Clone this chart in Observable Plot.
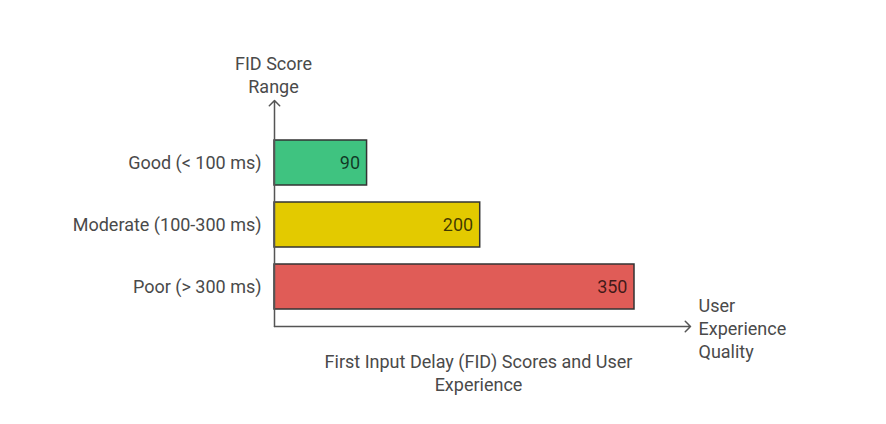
<!DOCTYPE html>
<html>
<head>
<meta charset="utf-8">
<script src="https://cdn.jsdelivr.net/npm/d3@7"></script>
<script src="https://cdn.jsdelivr.net/npm/@observablehq/plot@0.6"></script>
<style>
  html, body { margin: 0; padding: 0; background: #fff; }
  svg { font-family: Roboto, "Noto Sans", sans-serif; }
</style>
</head>
<body>
<div id="chart"></div>
<script>
const categories = ["Good (< 100 ms)", "Moderate (100-300 ms)", "Poor (> 300 ms)"];
const values = [90, 200, 350];
const colors = ["#3fc380", "#e3ca00", "#e05c57"];
const yTitle = "FID Score\nRange";
const xTitle = "User\nExperience\nQuality";
const caption = "First Input Delay (FID) Scores and User\nExperience";

const data = categories.map((c, i) => ({category: c, value: values[i], color: colors[i]}));

const axisColor = "#555";
const textColor = "#4a4a4a";

const chart = Plot.plot({
  width: 886,
  height: 424,
  marginLeft: 274,
  marginRight: 196,
  marginTop: 100,
  marginBottom: 98,
  style: {fontFamily: "Roboto, 'Noto Sans', sans-serif", fontSize: "18px", background: "#fff"},
  x: {domain: [0, 350], range: [274, 634], axis: null},
  y: {domain: categories, range: [131.5, 317.5], paddingInner: 0.274, paddingOuter: 0.137, label: null},
  marks: [
    Plot.axisY({tickSize: 0, tickPadding: 13, fontSize: 18, fill: textColor, label: null}),
    Plot.barX(data, {y: "category", x: "value", fill: "color", stroke: "#333", strokeWidth: 1.5}),
    Plot.text(data, {y: "category", x: "value", text: d => String(d.value), textAnchor: "end", dx: -7, fill: "#000", fillOpacity: 0.72, fontSize: 18}),
    Plot.vector([0], {frameAnchor: "bottom-left", rotate: 0, length: 226, anchor: "start", r: 0.4, stroke: axisColor, strokeWidth: 1.5}),
    Plot.vector([0], {frameAnchor: "bottom-left", rotate: 90, length: 416, anchor: "start", r: 0.22, stroke: axisColor, strokeWidth: 1.5}),
    Plot.text([yTitle], {frameAnchor: "top-left", text: d => d, textAnchor: "middle", lineAnchor: "middle", lineHeight: 1.28, dx: -1, dy: -26.5, fill: textColor, fontSize: 18}),
    Plot.text([xTitle], {frameAnchor: "bottom-right", text: d => d, textAnchor: "start", lineAnchor: "middle", lineHeight: 1.28, dx: 8, dy: 1, fill: textColor, fontSize: 18}),
    Plot.text([caption], {frameAnchor: "bottom", text: d => d, textAnchor: "middle", lineAnchor: "middle", lineHeight: 1.28, dx: -4, dy: 45.5, fill: textColor, fontSize: 18})
  ]
});
document.getElementById("chart").appendChild(chart);
</script>
</body>
</html>
